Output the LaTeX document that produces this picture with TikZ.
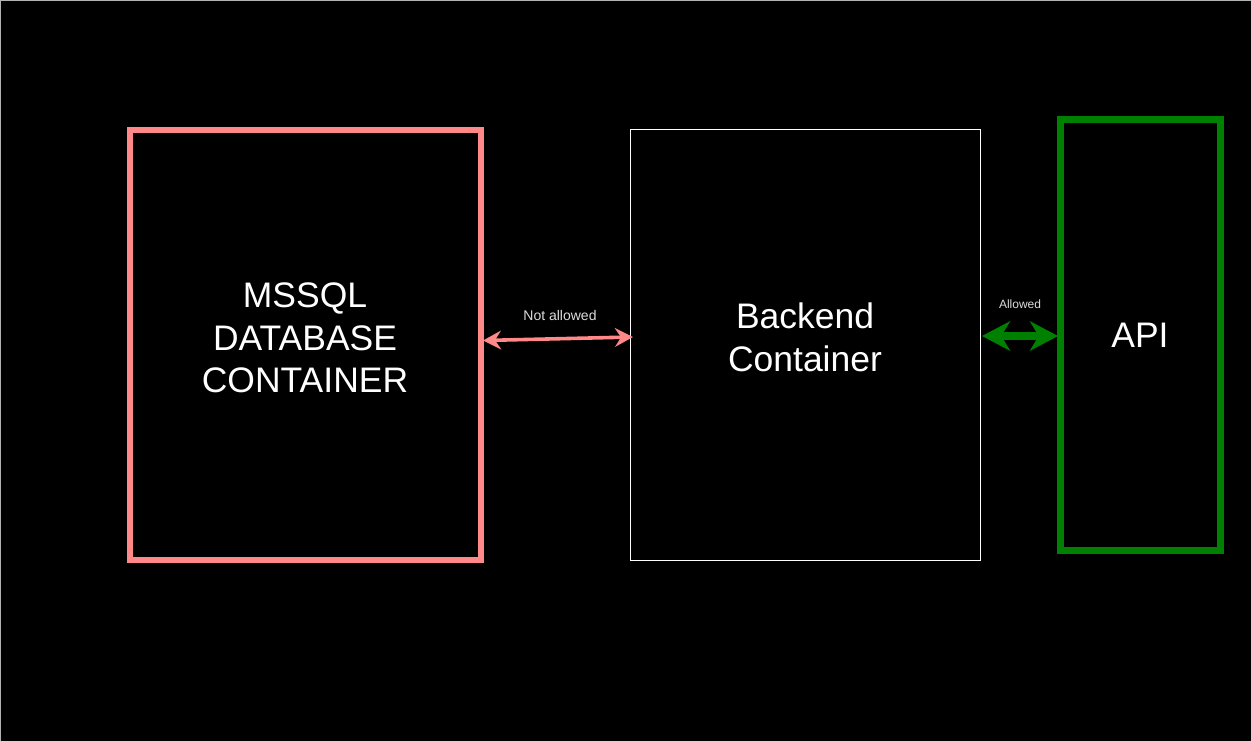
\documentclass[tikz,border=0pt]{standalone}
\usepackage{fontspec}
\setmainfont{Liberation Sans}
\usetikzlibrary{arrows.meta}
\definecolor{pinkc}{RGB}{255,136,136}
\definecolor{greenc}{RGB}{0,128,0}
\definecolor{lbl}{RGB}{220,220,220}
\begin{document}
\begin{tikzpicture}[x=0.75pt,y=-0.75pt,
  bigtext/.style={text=white,font=\fontsize{26.6}{32}\selectfont,align=center},
  smalltext/.style={text=lbl,inner sep=0pt},
  pinktip/.style={Stealth[length=13.5pt,width=14pt,inset=4.5pt]},
  greentip/.style={Stealth[length=21pt,width=22pt,inset=6.5pt]}]
\fill[black] (0,0) rectangle (1251,741);
\useasboundingbox (0,0) rectangle (1251,741);
\draw[gray!60,line width=0.75pt] (0.5,741) -- (0.5,0.5) -- (1251,0.5);
% boxes
\draw[pinkc,line width=4.5pt] (130,130) rectangle (481,560);
\draw[white,line width=0.75pt] (630,130) rectangle (980,560);
\draw[greenc,line width=5.25pt] (1060,120) rectangle (1220,550);
\coordinate (dbR) at (483,340.5);
\coordinate (beL) at (633,337);
\coordinate (beR) at (982,336);
\coordinate (apiL) at (1058,336);
\node[bigtext] (db) at (305,338) {MSSQL\\DATABASE\\CONTAINER};
\node[bigtext] (be) at (805,337) {Backend\\Container};
\node[bigtext] (api) at (1140,335) {API};
% arrows
\draw[pinkc,line width=2.7pt,{Stealth[length=13.5pt,width=14pt,inset=4.5pt]}-{Stealth[length=13.5pt,width=14pt,inset=4.5pt]}] (dbR) -- (beL);
\draw[greenc,line width=5.5pt,{Stealth[length=21pt,width=22pt,inset=6.5pt]}-{Stealth[length=21pt,width=22pt,inset=6.5pt]}] (beR) -- (apiL);
\node[smalltext,font=\fontsize{10.5}{12}\selectfont] (na) at (560,315) {Not allowed};
\node[smalltext,font=\fontsize{9}{11}\selectfont] (al) at (1020,304) {Allowed};
\end{tikzpicture}
\end{document}
